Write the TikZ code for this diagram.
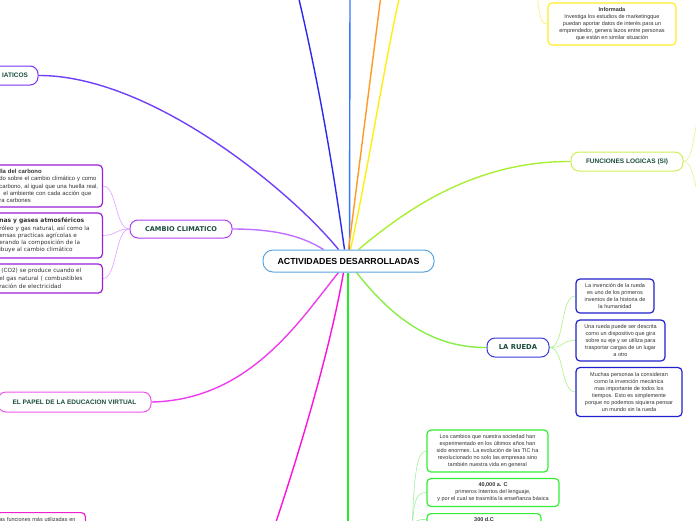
\documentclass[tikz,border=0pt]{standalone}
\usepackage{fontspec}
\setmainfont{Liberation Sans}
\newfontfamily\dv{DejaVu Sans}
\newcommand\myfs[2]{\fontsize{#1}{#2}\selectfont}
\definecolor{headg}{HTML}{1B4D3E}
\definecolor{txt}{HTML}{333333}
\definecolor{ctrb}{HTML}{5AA5E0}
\definecolor{violetb}{HTML}{7A30F0}
\definecolor{violetl}{HTML}{7040F8}
\definecolor{cambb}{HTML}{B040F0}
\definecolor{cambl}{HTML}{C070FF}
\definecolor{cambch}{HTML}{9A20D8}
\definecolor{cambthin}{HTML}{DDA0FF}
\definecolor{edub}{HTML}{EE55EE}
\definecolor{edul}{HTML}{F03CF0}
\definecolor{magl}{HTML}{FF10DD}
\definecolor{magb}{HTML}{EE22CC}
\definecolor{greenl}{HTML}{22EE22}
\definecolor{greenb}{HTML}{33EE33}
\definecolor{greenthin}{HTML}{A0EEA0}
\definecolor{yelb}{HTML}{FFEE22}
\definecolor{yelthin}{HTML}{FFEE66}
\definecolor{dblue}{HTML}{2A2AEE}
\definecolor{lblue}{HTML}{3377FF}
\definecolor{orangel}{HTML}{FF9922}
\definecolor{yell}{HTML}{FFEE11}
\definecolor{chartl}{HTML}{AAEE33}
\definecolor{funcb}{HTML}{CCF055}
\definecolor{functhin}{HTML}{DDF590}
\definecolor{ruedab}{HTML}{3A3AD8}
\definecolor{ruedal}{HTML}{88EE44}
\definecolor{ruedach}{HTML}{2020CC}
\definecolor{ruedathin}{HTML}{AAF088}
\pgfdeclarelayer{bg}
\pgfsetlayers{bg,main}
\begin{document}
\begin{tikzpicture}[x=1pt,y=-1pt,
  hub/.style={draw=ctrb, line width=1pt, rounded corners=10pt, fill=white,
    minimum width=171pt, minimum height=22pt, inner sep=0pt,
    font=\bfseries\myfs{8.8}{10}, text=black},
  topic/.style={line width=1pt, rounded corners=8pt, fill=white, inner sep=0pt,
    minimum height=19pt, font=\bfseries\myfs{6.5}{8}, text=headg},
  leaf/.style={line width=1.2pt, rounded corners=4pt, fill=white, inner sep=0pt,
    align=center, font=\myfs{5.5}{7}, text=txt},
  cutleaf/.style={line width=1.2pt, rounded corners=4pt, fill=white, inner xsep=4pt,
    inner ysep=0pt, align=left, font=\myfs{5.5}{7.2}, text=txt, anchor=east},
  main/.style={line width=1.4pt},
  thin/.style={line width=0.6pt}
]
\useasboundingbox (0,0) rectangle (696,520);
\clip (0,0) rectangle (696,520);

% off-canvas coordinates
\coordinate (offdb) at (298,-5);
\coordinate (offlb) at (350,-5);
\coordinate (offor) at (381,-5);
\coordinate (offye) at (400,-5);
\coordinate (offgr) at (348,525);
\coordinate (offmg) at (275,525);
\coordinate (offyp) at (537,-5);
\coordinate (offgp) at (412,530);
\coordinate (offf1) at (700,105);
\coordinate (offf2) at (700,200);

% nodes
\node[hub] (ctr) at (348.5,261) {ACTIVIDADES DESARROLLADAS};

\node[topic, draw=violetb, text width=40pt, align=right, inner xsep=10pt] (iat) at (8,75.5) {IATICOS};

\node[topic, draw=cambb, font=\dv\bfseries\myfs{6.6}{8}, minimum width=102pt, minimum height=18pt] (cc) at (181,229) {CAMBIO CLIMATICO};

\node[cutleaf, draw=cambch, text width=99pt, minimum height=42pt, font=\myfs{5.9}{7.2}] (cc1) at (103,186)
 {\textbf{lla del carbono}\\do sobre el cambio climático y como\\carbono, al igual que una huella real,\\\hspace*{4pt}el ambiente con cada acción que\\ra carbones};
\node[cutleaf, draw=cambch, text width=99pt, minimum height=45pt, font=\dv\myfs{5.7}{7.2}] (cc2) at (103,235.5)
 {{\myfs{6.0}{8}\textbf{nas y gases atmosféricos}}\\róleo y gas natural, así como la\\ensas practicas agrícolas e\\erando la composición de la\\ibuye al cambio climático};
\node[cutleaf, draw=cambch, text width=99pt, minimum height=29pt, font=\dv\myfs{5.7}{7.7}] (cc3) at (103,278.5)
 {\hspace*{2pt}(CO2) se produce cuando el\\el gas natural ( combustibles\\ración de electricidad};

\node[topic, draw=edub, minimum width=153pt, minimum height=20pt] (edu) at (74.5,402) {EL PAPEL DE LA EDUCACION VIRTUAL};

\node[cutleaf, draw=magb, text width=82pt, minimum height=14pt, anchor=north east] (mg1) at (86,512)
 {as funciones más utilizadas en};

\node[leaf, draw=yelb, minimum width=128pt, minimum height=42pt] (inf) at (612,24)
 {\textbf{Informada}\\Investiga los estudios de marketingque\\puedan aportar datos de interés para un\\emprendedor, genera lazos entre personas\\que están en similar situación};

\node[topic, draw=funcb, minimum width=112pt] (fun) at (627,161.5) {FUNCIONES LOGICAS (SI)};

\node[topic, draw=ruedab, font=\dv\bfseries\myfs{6.8}{8}, minimum width=62pt] (rue) at (518,347.5) {LA RUEDA};

\node[leaf, draw=ruedach, minimum width=78pt, minimum height=34pt] (r1) at (615,296)
 {La invención de la rueda\\es uno de los primeros\\inventos de la historia de\\la humanidad};
\node[leaf, draw=ruedach, minimum width=89pt, minimum height=41pt] (r2) at (620.5,340.5)
 {Una rueda puede ser descrita\\como un dispositivo que gira\\sobre su eje y se utiliza para\\trasportar cargas de un lugar\\a otro};
\node[leaf, draw=ruedach, minimum width=106pt, minimum height=49pt] (r3) at (629,392)
 {Muchas personas la consideran\\como la invención mecánica\\mas importante de todos los\\tiempos. Esto es simplemente\\porque no podemos siquiera pensar\\un mundo sin la rueda};

\node[leaf, draw=greenb, minimum width=121pt, minimum height=42pt] (ga) at (487.5,451)
 {Los cambios que nuestra sociedad han\\experimentado en los últimos años han\\sido enormes. La evolución de las TIC ha\\revolucionado no solo las empresas sino\\también nuestra vida en general};
\node[leaf, draw=greenb, minimum width=132pt, minimum height=28pt] (gb) at (493,492.5)
 {\textbf{40,000 a. C}\\primeros Intentos del lenguaje,\\y por el cual se trasmitía la enseñanza básica};
\node[leaf, draw=greenb, minimum width=114pt, minimum height=12pt, anchor=north] (gc) at (484,513)
 {\textbf{300 d.C}};

% connectors
\begin{pgfonlayer}{bg}
\draw[main, dblue] ([xshift=-4pt]ctr.north) .. controls (332,160) and (318,80) .. (offdb);
\draw[main, lblue] ([xshift=1pt]ctr.north) -- (offlb);
\draw[main, orangel] ([xshift=0pt]ctr.north) .. controls (360,160) and (374,50) .. (offor);
\draw[main, yell] ([xshift=2pt]ctr.north) .. controls (368,170) and (385,60) .. (offye);
\draw[main, violetl] (iat.east) .. controls (150,75) and (290,190) .. ([xshift=-10pt]ctr.north);
\draw[main, cambl] (cc.east) .. controls (280,229) and (305,238) .. ([xshift=-25pt]ctr.north);
\draw[main, chartl] ([xshift=10pt]ctr.north) .. controls (400,215) and (470,161) .. (fun.west);
\draw[main, edul] ([xshift=-10pt]ctr.south) .. controls (300,320) and (250,400) .. (edu.east);
\draw[main, magl] ([xshift=-5pt]ctr.south) .. controls (330,350) and (300,450) .. (offmg);
\draw[main, greenl] ([xshift=-0.5pt]ctr.south) -- (offgr);
\draw[main, ruedal] ([xshift=8pt]ctr.south) .. controls (390,315) and (430,348) .. (rue.west);

\draw[thin, cambthin] (cc.west) .. controls (115,229) and (117,186) .. (cc1.east);
\draw[thin, cambthin] (cc.west) .. controls (115,229) and (117,235.5) .. (cc2.east);
\draw[thin, cambthin] (cc.west) .. controls (115,229) and (117,278.5) .. (cc3.east);

\draw[thin, ruedathin] (rue.east) .. controls (565,348) and (560,296) .. (r1.west);
\draw[thin, ruedathin] (rue.east) .. controls (565,348) and (560,340.5) .. (r2.west);
\draw[thin, ruedathin] (rue.east) .. controls (565,348) and (560,392) .. (r3.west);

\draw[thin, yelthin] (offyp) .. controls (540,15) and (540,24) .. (inf.west);

\draw[thin, functhin] (fun.east) .. controls (692,161) and (693,140) .. (offf1);
\draw[thin, functhin] (fun.east) .. controls (692,161) and (693,180) .. (offf2);

\draw[thin, greenthin] (offgp) .. controls (414,480) and (416,451) .. (ga.west);
\draw[thin, greenthin] (offgp) .. controls (414,500) and (416,492.5) .. (gb.west);
\draw[thin, greenthin] (offgp) .. controls (414,520) and (418,519) .. (gc.west);
\end{pgfonlayer}
\end{tikzpicture}
\end{document}
